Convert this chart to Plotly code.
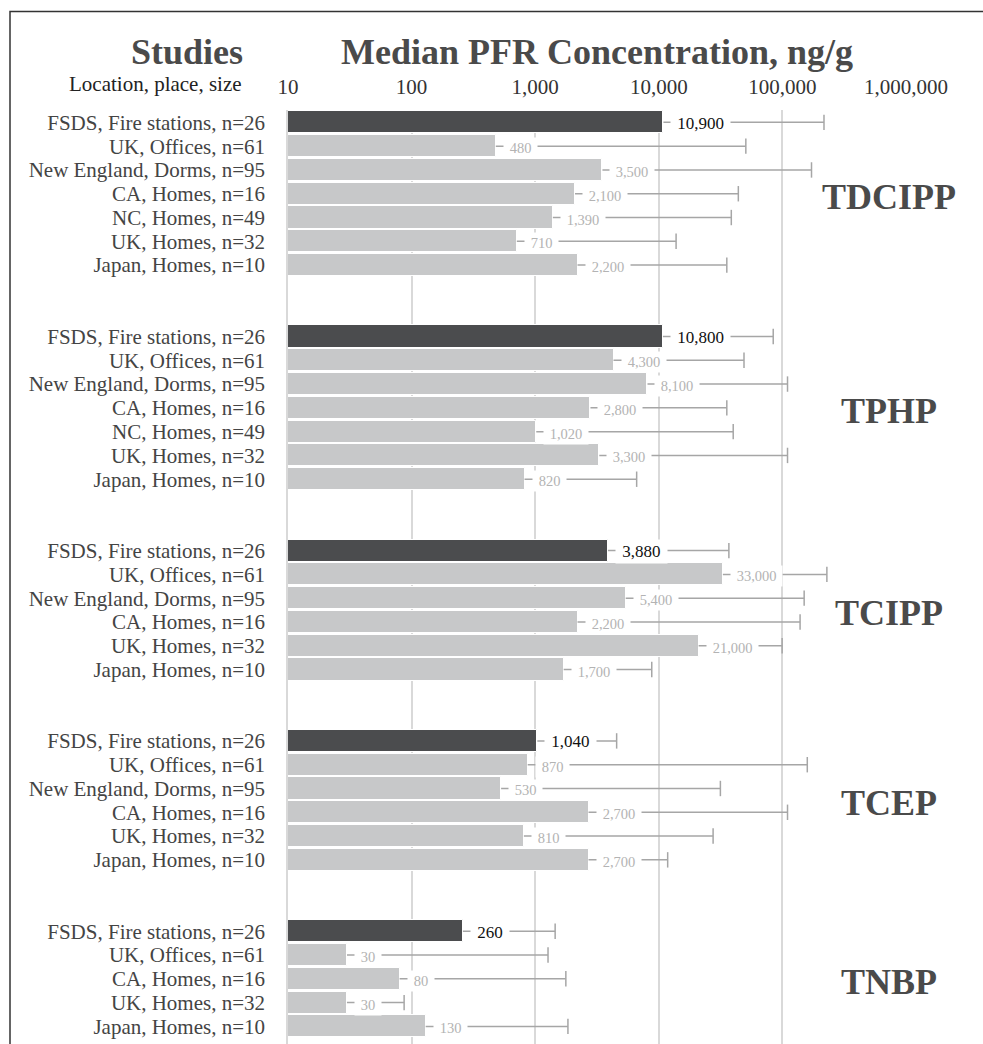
import math
import plotly.graph_objects as go

# ---------------- data ----------------
groups = ["TDCIPP", "TPHP", "TCIPP", "TCEP", "TNBP"]

studies_7 = ["FSDS, Fire stations, n=26", "UK, Offices, n=61", "New England, Dorms, n=95",
             "CA, Homes, n=16", "NC, Homes, n=49", "UK, Homes, n=32", "Japan, Homes, n=10"]
studies_6 = ["FSDS, Fire stations, n=26", "UK, Offices, n=61", "New England, Dorms, n=95",
             "CA, Homes, n=16", "UK, Homes, n=32", "Japan, Homes, n=10"]
studies_5 = ["FSDS, Fire stations, n=26", "UK, Offices, n=61",
             "CA, Homes, n=16", "UK, Homes, n=32", "Japan, Homes, n=10"]

tdcipp_median = [10900, 480, 3500, 2100, 1390, 710, 2200]
tdcipp_upper = [217000, 50600, 172000, 44000, 38600, 13800, 35500]

tphp_median = [10800, 4300, 8100, 2800, 1020, 3300, 820]
tphp_upper = [84300, 48900, 110000, 35500, 40000, 110000, 6620]

tcipp_median = [3880, 33000, 5400, 2200, 21000, 1700]
tcipp_upper = [36900, 229000, 150000, 139000, 99500, 8770]

tcep_median = [1040, 870, 530, 2700, 810, 2700]
tcep_upper = [4560, 159000, 31500, 110000, 27500, 11800]

tnbp_median = [260, 30, 80, 30, 130]
tnbp_upper = [1450, 1270, 1770, 87, 1840]

group_studies = [studies_7, studies_7, studies_6, studies_6, studies_5]
group_medians = [tdcipp_median, tphp_median, tcipp_median, tcep_median, tnbp_median]
group_uppers = [tdcipp_upper, tphp_upper, tcipp_upper, tcep_upper, tnbp_upper]

x_tickvals = [10, 100, 1000, 10000, 100000, 1000000]
x_ticktext = ["10", "100", "1,000", "10,000", "100,000", "1,000,000"]

# ---------------- styling ----------------
W, H = 983, 1044
ML, MR, MT, MB = 288, 77, 110, 0
PW, PH = W - ML - MR, H - MT - MB
FONT = "Liberation Serif"
DARK = "#4b4c4e"
LIGHT = "#c7c8c9"
ERR = "#a6a6a6"
GRID = "#d9d9d9"
NB = "\u00a0"


def px_x(px):
    return (px - ML) / PW


def px_y(py):
    return 1 - (py - MT) / PH


rows, labels, medians, uppers, colors, group_mid = [], [], [], [], [], []
r = 0
for studies, meds, ups in zip(group_studies, group_medians, group_uppers):
    start = r
    for s, m, u in zip(studies, meds, ups):
        rows.append(r)
        labels.append(s)
        medians.append(m)
        uppers.append(u)
        colors.append(DARK if s.startswith("FSDS") else LIGHT)
        r += 1
    group_mid.append((start + r - 1) / 2)
    r += 2

fig = go.Figure()
fig.add_trace(go.Bar(
    x=medians, y=rows, orientation="h", width=0.93,
    marker=dict(color=colors, line=dict(color="white", width=1)),
    hoverinfo="skip",
))

ex, ey = [], []
for m, u, yy in zip(medians, uppers, rows):
    ex += [m, u, None]
    ey += [yy, yy, None]
fig.add_trace(go.Scatter(x=ex, y=ey, mode="lines",
                         line=dict(color=ERR, width=1.5), hoverinfo="skip"))
fig.add_trace(go.Scatter(x=uppers, y=rows, mode="markers",
                         marker=dict(symbol="line-ns", size=11,
                                     line=dict(color=ERR, width=1.5)),
                         hoverinfo="skip"))

annotations = []
for m, yy, c in zip(medians, rows, colors):
    dark = c == DARK
    annotations.append(dict(
        x=math.log10(m), y=yy, xref="x", yref="y", text=f"{NB}{m:,}{NB}",
        showarrow=False, xanchor="left", yanchor="middle", xshift=7,
        yshift=-1 if dark else -2,
        bgcolor="white", borderpad=2,
        font=dict(family=FONT, size=17 if dark else 14.5,
                  color="#111111" if dark else "#b3b3b3"),
    ))

for g, mid in zip(groups, group_mid):
    annotations.append(dict(
        x=px_x(889), y=mid, xref="paper", yref="y", text=f"<b>{g}</b>",
        showarrow=False, xanchor="center", yanchor="middle", yshift=-3,
        font=dict(family=FONT, size=36, color="#4a4a4a"),
    ))

annotations.append(dict(
    x=px_x(597), y=px_y(52), xref="paper", yref="paper",
    text="<b>Median PFR Concentration, ng/g</b>", showarrow=False,
    xanchor="center", yanchor="middle",
    font=dict(family=FONT, size=36, color="#4a4a4a")))
annotations.append(dict(
    x=px_x(187), y=px_y(52), xref="paper", yref="paper",
    text="<b>Studies</b>", showarrow=False,
    xanchor="center", yanchor="middle",
    font=dict(family=FONT, size=36, color="#4a4a4a")))
annotations.append(dict(
    x=px_x(244), y=px_y(84), xref="paper", yref="paper",
    text="Location, place, size", showarrow=False,
    xanchor="right", yanchor="middle",
    font=dict(family=FONT, size=21, color="#222222")))

fig.update_layout(
    width=W, height=H,
    margin=dict(l=ML, r=MR, t=MT, b=MB, autoexpand=False),
    paper_bgcolor="white", plot_bgcolor="white",
    showlegend=False, hovermode=False, bargap=0,
    annotations=annotations,
    shapes=[dict(type="rect", xref="paper", yref="paper",
                 x0=px_x(10), x1=px_x(995), y0=px_y(1060), y1=px_y(11.5),
                 line=dict(color="#333333", width=1.5), layer="above")],
    xaxis=dict(type="log", range=[1, 6], side="top",
               tickvals=x_tickvals, ticktext=x_ticktext,
               showgrid=True, gridcolor=GRID, gridwidth=1.5,
               zeroline=False, showline=False, ticks="",
               ticklabelstandoff=11,
               tickfont=dict(family=FONT, size=21, color="#333333")),
    yaxis=dict(range=[38.74, -0.52], tickvals=rows, ticktext=labels,
               showgrid=False, zeroline=False,
               showline=True, linecolor=GRID, linewidth=1.5,
               ticks="", ticklabelstandoff=17,
               tickfont=dict(family=FONT, size=21, color="#444444")),
)

fig.write_html("out.html", config={"displayModeBar": False},
               post_script="document.body.style.margin='0';document.body.style.overflow='hidden';")
